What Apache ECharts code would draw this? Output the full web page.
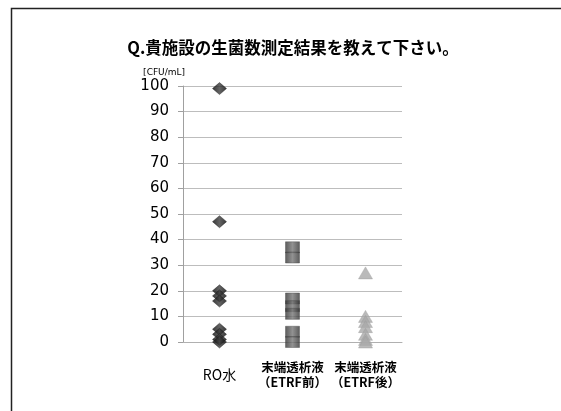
<!DOCTYPE html>
<html>
<head>
<meta charset="utf-8">
<script src="https://cdn.jsdelivr.net/npm/echarts@6/dist/echarts.min.js"></script>
<style>
  html, body { margin: 0; padding: 0; background: #fff; }
  #chart { width: 561px; height: 411px; }
</style>
</head>
<body>
<div id="chart"></div>
<script>
// Sample groups on the x axis
const categories = ['RO水', '末端透析液\n（ETRF前）', '末端透析液\n（ETRF後）'];
// Viable bacteria counts [CFU/mL] per facility
const roWater = [99, 47, 20, 18, 16, 5, 3, 1, 0];
const dialysateBefore = [37, 33, 17, 14, 11, 4, 0];
const dialysateAfter = [27, 10, 8, 6, 3, 1, 0];
// Y axis scale
const yMin = 0, yMax = 100, yStep = 10;

const chart = echarts.init(document.getElementById('chart'), null, { renderer: 'canvas' });

const toPoints = (cat, values) => values.map(v => [cat, v]);

const diamondFill = new echarts.graphic.LinearGradient(0, 0, 1, 0, [
  { offset: 0, color: '#050505' },
  { offset: 0.5, color: '#3c3c3c' },
  { offset: 1, color: '#050505' }
]);
const rectFill = new echarts.graphic.LinearGradient(0, 0, 1, 0, [
  { offset: 0, color: '#333333' },
  { offset: 0.5, color: '#767676' },
  { offset: 1, color: '#333333' }
]);

chart.setOption({
  backgroundColor: '#ffffff',
  animation: false,
  title: {
    text: 'Q.貴施設の生菌数測定結果を教えて下さい。',
    left: 288,
    textAlign: 'center',
    top: 34,
    textStyle: {
      fontFamily: '"Noto Sans CJK JP", "DejaVu Sans", sans-serif',
      fontSize: 16.5,
      fontWeight: 'bold',
      color: '#000'
    }
  },
  grid: { left: 183, right: 159, top: 86, bottom: 69, containLabel: false },
  xAxis: {
    type: 'category',
    data: categories,
    boundaryGap: true,
    axisLine: { show: true, lineStyle: { color: '#b0b0b0', width: 1 } },
    axisTick: { show: false },
    splitLine: { show: false },
    axisLabel: {
      interval: 0,
      margin: 18,
      color: '#000',
      fontFamily: '"Noto Sans CJK JP", "Liberation Sans", sans-serif',
      fontSize: 12,
      lineHeight: 15,
      formatter: (v) => v.indexOf('\n') >= 0 ? '{b|' + v.split('\n').join('}\n{b|') + '}' : '{n|' + v + '}',
      rich: {
        b: { fontWeight: 'bold', fontSize: 12.5, lineHeight: 15, fontFamily: '"Noto Sans CJK JP", sans-serif', color: '#000' },
        n: { fontWeight: 'normal', fontSize: 14, lineHeight: 30, fontFamily: '"Noto Sans CJK JP", sans-serif', color: '#000' }
      }
    }
  },
  yAxis: {
    type: 'value',
    min: yMin,
    max: yMax,
    interval: yStep,
    name: '[CFU/mL]',
    nameLocation: 'end',
    nameGap: 9,
    nameTextStyle: {
      align: 'right',
      color: '#000',
      fontSize: 9,
      fontFamily: '"DejaVu Sans", sans-serif',
      padding: [0, -2, 0, 0]
    },
    axisLine: { show: true, lineStyle: { color: '#a0a0a0', width: 1 } },
    axisTick: { show: true, inside: false, length: 5, lineStyle: { color: '#a0a0a0' } },
    splitLine: { show: true, lineStyle: { color: '#bdbdbd', width: 1 } },
    axisLabel: {
      margin: 14,
      color: '#000',
      fontSize: 15,
      fontFamily: '"DejaVu Sans", sans-serif'
    }
  },
  series: [
    {
      name: 'RO水',
      type: 'scatter',
      symbol: 'diamond',
      symbolSize: [14, 12],
      itemStyle: { color: diamondFill, borderColor: '#111', borderWidth: 0.5 },
      data: toPoints(categories[0], roWater),
      z: 3
    },
    {
      name: 'ETRF前',
      type: 'scatter',
      symbol: 'rect',
      symbolSize: [14, 11],
      itemStyle: { color: rectFill, borderColor: '#444', borderWidth: 0.5 },
      data: toPoints(categories[1], dialysateBefore),
      z: 3
    },
    {
      name: 'ETRF後',
      type: 'scatter',
      symbol: 'triangle',
      symbolSize: [14, 12],
      itemStyle: { color: '#a9a9a9', borderColor: '#9a9a9a', borderWidth: 0.5 },
      data: toPoints(categories[2], dialysateAfter),
      z: 3
    }
  ],
  graphic: [
    {
      type: 'polyline',
      shape: { points: [[11.5, 411], [11.5, 8.5], [561, 8.5]] },
      style: { stroke: '#222', lineWidth: 1.5, fill: null },
      silent: true
    }
  ]
});
</script>
</body>
</html>
